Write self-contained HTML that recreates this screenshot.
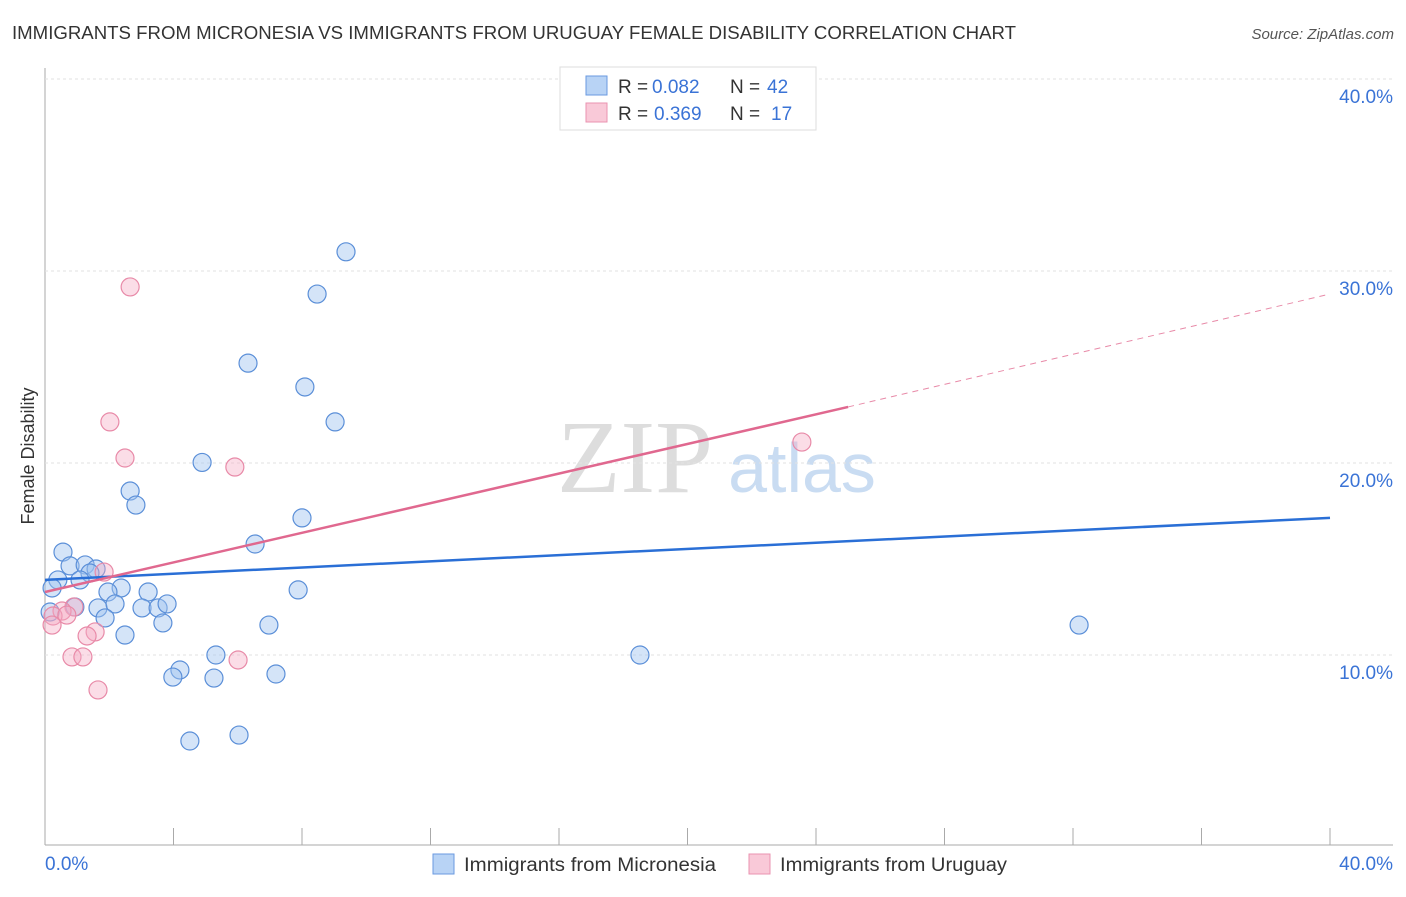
<!DOCTYPE html>
<html><head><meta charset="utf-8"><style>
body{margin:0;background:#fff;font-family:"Liberation Sans",sans-serif}
</style></head><body>
<svg id="c" width="1406" height="892" xmlns="http://www.w3.org/2000/svg">
<text x="12" y="39" font-size="18" fill="#333" textLength="1004" lengthAdjust="spacingAndGlyphs">IMMIGRANTS FROM MICRONESIA VS IMMIGRANTS FROM URUGUAY FEMALE DISABILITY CORRELATION CHART</text>
<text x="1394" y="39" font-size="15" fill="#555" font-style="italic" text-anchor="end">Source: ZipAtlas.com</text>
<text x="34" y="456" font-size="18" fill="#333" transform="rotate(-90 34 456)" text-anchor="middle">Female Disability</text>
<g><text x="635" y="492" font-size="104" font-family="Liberation Serif,serif" fill="#ddd" text-anchor="middle">ZIP</text><text x="802" y="492" font-size="70" fill="#c9dcf2" text-anchor="middle">atlas</text></g>
<g id="grid"></g><g id="marks"></g>
<g>
<rect x="560" y="67" width="256" height="63" fill="#fff" stroke="#ddd"/>
<rect x="586" y="76" width="21" height="19" fill="#b8d3f5" stroke="#6a9ae0"/>
<rect x="586" y="103" width="21" height="19" fill="#f9c9d8" stroke="#ea93b0"/>
<text x="618" y="93" font-size="19" fill="#333">R =</text><text x="652" y="93" font-size="19" fill="#3a73d6">0.082</text>
<text x="730" y="93" font-size="19" fill="#333">N =</text><text x="767" y="93" font-size="19" fill="#3a73d6">42</text>
<text x="618" y="120" font-size="19" fill="#333">R =</text><text x="654" y="120" font-size="19" fill="#3a73d6">0.369</text>
<text x="730" y="120" font-size="19" fill="#333">N =</text><text x="771" y="120" font-size="19" fill="#3a73d6">17</text>
</g>
<g>
<rect x="433" y="854" width="21" height="20" fill="#b8d3f5" stroke="#6a9ae0"/>
<text x="464" y="871" font-size="19" fill="#333" textLength="252" lengthAdjust="spacingAndGlyphs">Immigrants from Micronesia</text>
<rect x="749" y="854" width="21" height="20" fill="#f9c9d8" stroke="#ea93b0"/>
<text x="780" y="871" font-size="19" fill="#333" textLength="227" lengthAdjust="spacingAndGlyphs">Immigrants from Uruguay</text>
</g>
</svg>
<script>
const yTicks=[10,20,30,40];
const xTickLabels=["0.0%","40.0%"];
const blueX=[0.56,0.78,1.25,1.59,1.40,0.40,1.09,0.22,2.37,1.96,3.21,0.93,1.65,2.18,3.02,3.52,3.80,1.87,3.67,2.49,0.16,2.65,2.83,4.89,6.32,8.47,9.37,8.09,9.03,8.00,6.54,7.88,6.97,5.32,4.20,3.98,5.26,7.19,4.51,6.04,18.52,32.19];
const blueY=[15.36,14.64,14.69,14.48,14.27,13.91,13.91,13.49,13.49,13.28,13.28,12.50,12.45,12.66,12.45,12.45,12.66,11.93,11.67,11.04,12.24,18.54,17.81,20.03,25.2,28.8,31.0,23.96,22.14,17.14,15.78,13.39,11.56,10.0,9.22,8.85,8.80,9.01,5.52,5.83,10.0,11.56];
const pinkX=[2.65,2.02,2.49,5.91,23.56,1.84,0.90,0.53,0.25,0.68,0.22,1.56,1.31,0.84,1.18,6.01,1.65];
const pinkY=[29.17,22.14,20.26,19.79,21.09,14.32,12.50,12.29,12.03,12.08,11.56,11.20,10.99,9.90,9.90,9.74,8.18];
const blueTrend=[[0,13.91],[40,17.14]];
const pinkTrend=[[0,13.28],[25,22.92],[40,28.8]];
const NS="http://www.w3.org/2000/svg";
const X=v=>45+v/40*1285, Y=v=>847-v*19.2;
function mk(t,a,p){const e=document.createElementNS(NS,t);for(const k in a)e.setAttribute(k,a[k]);p.appendChild(e);return e;}
const g=document.getElementById('grid'), m=document.getElementById('marks');
mk('line',{x1:45,y1:845,x2:1393,y2:845,stroke:'#aaa'},g);
mk('line',{x1:45,y1:68,x2:45,y2:845,stroke:'#aaa'},g);
yTicks.forEach(t=>{
 const l=mk('line',{x1:45,y1:Y(t),x2:1393,y2:Y(t),stroke:'#e2e2e2','stroke-dasharray':'3,3'},g);
 
 
 const tx=mk('text',{x:1393,y:Y(t)+24,'font-size':19,fill:'#3a73d6','text-anchor':'end'},g);
 tx.textContent=t.toFixed(1)+'%';
 
 
});
for(let i=0;i<=10;i++){const l=mk('line',{x1:X(i*4),y1:828,x2:X(i*4),y2:845,stroke:'#aaa'},g);
 
 }
xTickLabels.forEach((s,i)=>{const t=mk('text',{x:i?1393:45,y:870,'font-size':19,fill:'#3a73d6','text-anchor':i?'end':'start'},g);t.textContent=s;
 
 });
blueX.forEach((x,i)=>{const c=mk('circle',{cx:X(x),cy:Y(blueY[i]),r:9,fill:'rgba(160,196,240,0.45)',stroke:'#5b8fd8','stroke-width':1.2},m);
 
 });
pinkX.forEach((x,i)=>{const c=mk('circle',{cx:X(x),cy:Y(pinkY[i]),r:9,fill:'rgba(245,170,195,0.4)',stroke:'#e88aa8','stroke-width':1.2},m);
 
 });
let l=mk('line',{x1:X(blueTrend[0][0]),y1:Y(blueTrend[0][1]),x2:X(blueTrend[1][0]),y2:Y(blueTrend[1][1]),stroke:'#2a6fd6','stroke-width':2.5},m);


l=mk('line',{x1:X(pinkTrend[0][0]),y1:Y(pinkTrend[0][1]),x2:X(pinkTrend[1][0]),y2:Y(pinkTrend[1][1]),stroke:'#e0688f','stroke-width':2.5},m);


l=mk('line',{x1:X(pinkTrend[1][0]),y1:Y(pinkTrend[1][1]),x2:X(pinkTrend[2][0]),y2:Y(pinkTrend[2][1]),stroke:'#e88aa8','stroke-width':1,'stroke-dasharray':'6,5'},m);


</script>
</body></html>
